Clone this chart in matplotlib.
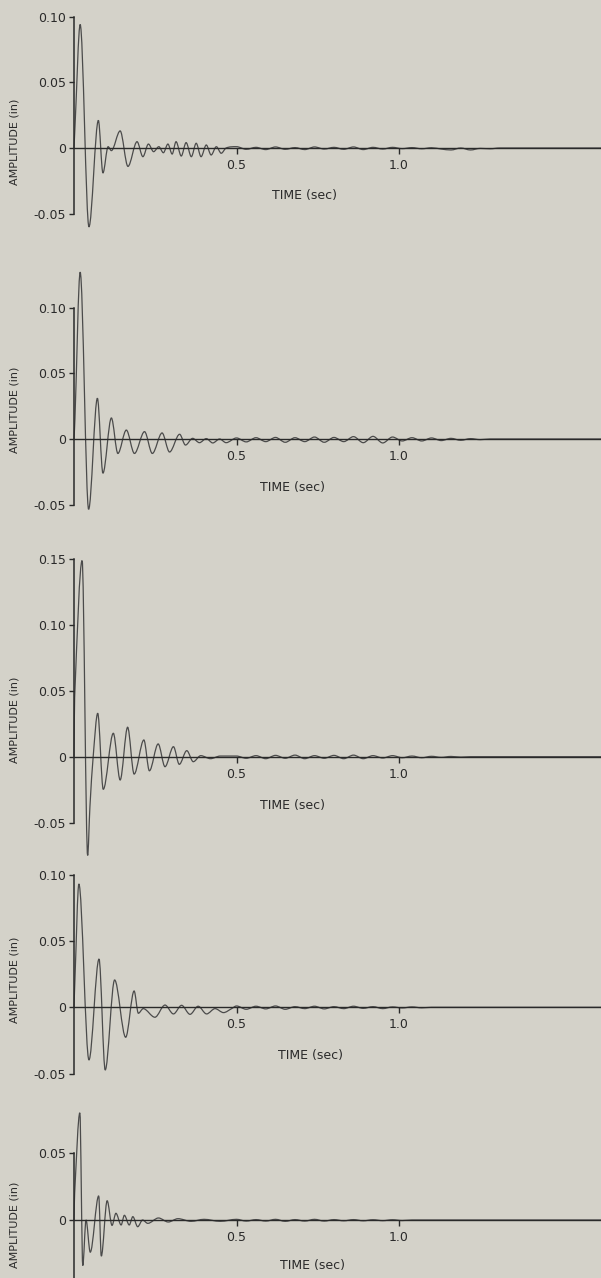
import numpy as np
import matplotlib
matplotlib.use("Agg")
import matplotlib.pyplot as plt
from matplotlib.path import Path
from matplotlib.patches import PathPatch

# turning points: time (sec) and amplitude (in)
p1_time = [0.0, 0.003, 0.019, 0.046, 0.075, 0.089, 0.105, 0.115, 0.142, 0.166, 0.194, 0.212,
           0.229, 0.245, 0.261, 0.275, 0.289, 0.302, 0.314, 0.330, 0.345, 0.361, 0.376, 0.391,
           0.407, 0.422, 0.438, 0.453, 0.468]
p1_amp = [0.0, 0.016, 0.094, -0.060, 0.021, -0.019, 0.001, -0.002, 0.013, -0.014, 0.0048, -0.0066,
          0.003, -0.0028, 0.001, -0.0036, 0.003, -0.0046, 0.0048, -0.0061, 0.0041, -0.0066, 0.0036, -0.0066,
          0.0023, -0.0053, 0.001, -0.004, 0.0]

p2_time = [0.0, 0.003, 0.019, 0.045, 0.072, 0.089, 0.115, 0.135, 0.161, 0.186, 0.217, 0.241,
           0.271, 0.294, 0.325, 0.343, 0.365, 0.386, 0.407, 0.427, 0.448, 0.468]
p2_amp = [0.0, 0.016, 0.127, -0.0535, 0.031, -0.026, 0.016, -0.011, 0.0068, -0.011, 0.0056, -0.011,
          0.0046, -0.0099, 0.0036, -0.0046, 0.0005, -0.0028, 0.0003, -0.003, 0.0, -0.0028]

p3_time = [0.0, 0.002, 0.025, 0.042, 0.049, 0.059, 0.073, 0.090, 0.121, 0.142, 0.165, 0.185,
           0.215, 0.232, 0.259, 0.280, 0.306, 0.324, 0.347, 0.367, 0.39, 0.42, 0.45]
p3_amp = [0.0, 0.045, 0.149, -0.075, -0.038, 0.0, 0.033, -0.0248, 0.0178, -0.0177, 0.0224, -0.0132,
          0.0127, -0.0107, 0.0097, -0.0076, 0.0076, -0.0058, 0.0046, -0.0038, 0.0008, -0.0015, 0.0005]

p4_time = [0.0, 0.003, 0.015, 0.046, 0.077, 0.096, 0.125, 0.159, 0.185, 0.198, 0.213, 0.249,
           0.280, 0.306, 0.331, 0.357, 0.382, 0.408, 0.434, 0.460, 0.485]
p4_amp = [0.0, 0.022, 0.093, -0.0397, 0.0364, -0.0473, 0.0206, -0.0226, 0.0123, -0.0045, -0.001, -0.0075,
          0.0017, -0.005, 0.0015, -0.0053, 0.0008, -0.005, -0.001, -0.004, -0.001]

p5_time = [0.0, 0.002, 0.018, 0.027, 0.037, 0.050, 0.076, 0.084, 0.102, 0.117, 0.129, 0.145,
           0.155, 0.170, 0.181, 0.196, 0.211, 0.227, 0.26, 0.29, 0.32, 0.36, 0.40, 0.45]
p5_amp = [0.0, 0.02, 0.080, -0.034, 0.0, -0.024, 0.018, -0.027, 0.0144, -0.004, 0.005, -0.0037,
          0.0035, -0.0037, 0.0025, -0.005, 0.0, -0.0025, 0.0015, -0.0015, 0.001, -0.001, 0.0005, -0.001]

# small ripple after 0.5 sec, same sample times for every record
tail_time = [0.50, 0.53, 0.56, 0.59, 0.62, 0.65, 0.68, 0.71, 0.74, 0.77, 0.80, 0.83, 0.86, 0.89,
             0.92, 0.95, 0.98, 1.01, 1.04, 1.07, 1.10, 1.13, 1.16, 1.19, 1.22, 1.25, 1.28, 1.31]
p1_tail = [0.001, -0.001, 0.0005, -0.0012, 0.0008, -0.001, 0.0003, -0.0012, 0.0008, -0.0008, 0.0005, -0.001,
           0.0008, -0.0012, 0.0005, -0.0008, 0.0005, -0.0005, 0.0003, -0.0006, 0.0002, -0.0008, -0.0015, 0.0,
           -0.0015, -0.0003, -0.0006, 0.0]
p2_tail = [0.0008, -0.0022, 0.001, -0.002, 0.0012, -0.0025, 0.001, -0.002, 0.0015, -0.0025, 0.0012, -0.002,
           0.0018, -0.0028, 0.002, -0.003, 0.0015, -0.0015, 0.001, -0.0015, 0.0008, -0.0012, 0.0005, -0.001,
           0.0003, -0.0005, 0.0, 0.0]
p3_tail = [0.0005, -0.0012, 0.0008, -0.0015, 0.001, -0.0012, 0.0012, -0.0015, 0.0008, -0.0012, 0.001, -0.0015,
           0.0012, -0.0015, 0.0008, -0.001, 0.0008, -0.0008, 0.0005, -0.0008, 0.0003, -0.0005, 0.0002, -0.0003,
           0.0, 0.0, 0.0, 0.0]
p4_tail = [0.001, -0.0015, 0.0008, -0.0012, 0.001, -0.0015, 0.0005, -0.001, 0.0008, -0.0012, 0.0005, -0.001,
           0.0008, -0.0008, 0.0005, -0.001, 0.0003, -0.0005, 0.0003, -0.0004, 0.0, 0.0, 0.0, 0.0,
           0.0, 0.0, 0.0, 0.0]
p5_tail = [0.0005, -0.0008, 0.0003, -0.0008, 0.0005, -0.001, 0.0003, -0.0008, 0.0005, -0.0008, 0.0003, -0.0006,
           0.0003, -0.0006, 0.0002, -0.0005, 0.0002, -0.0004, 0.0, 0.0, 0.0, 0.0, 0.0, 0.0,
           0.0, 0.0, 0.0, 0.0]

p1_ticks = [-0.05, 0, 0.05, 0.10]
p1_labels = ["-0.05", "0", "0.05", "0.10"]
p3_ticks = [-0.05, 0, 0.05, 0.10, 0.15]
p3_labels = ["-0.05", "0", "0.05", "0.10", "0.15"]
p5_ticks = [0, 0.05]          # the page is cut just above the -0.05 mark of the last record
p5_labels = ["0", "0.05"]
x_ticks = [0.5, 1.0]
x_labels = ["0.5", "1.0"]

records = [
    (p1_time, p1_amp, p1_tail, p1_ticks, p1_labels),
    (p2_time, p2_amp, p2_tail, p1_ticks, p1_labels),
    (p3_time, p3_amp, p3_tail, p3_ticks, p3_labels),
    (p4_time, p4_amp, p4_tail, p1_ticks, p1_labels),
    (p5_time, p5_amp, p5_tail, p5_ticks, p5_labels),
]

# page layout in pixels (zero line y, pixels per inch of amplitude, y limits, label spots)
W, H = 601, 1278
x_left = 74
px_per_sec = 325
zero_px = [148, 439, 756.7, 1007.3, 1220]
px_per_unit = [1314, 1314, 1316, 1326, 1340]
ylims = [(-0.066, 0.105), (-0.06, 0.135), (-0.08, 0.155), (-0.055, 0.105), (-0.06, 0.09)]
spine_low = [-0.05, -0.05, -0.05, -0.05, -0.06]
ylabel_y = [142, 410, 720, 980, 1225]
time_label = [(304, 196), (292, 488), (292, 805), (310, 1055), (312, 1266)]

bg = "#d4d2c9"
ink = "#2a2a2a"
trace = "#4b4b4b"


def trace_path(t, a):
    # smooth curve through the turning points, flat at peaks and troughs
    t = np.asarray(t, float)
    a = np.asarray(a, float)
    n = len(t)
    m = np.zeros(n)
    for i in range(1, n - 1):
        if (a[i] - a[i - 1]) * (a[i + 1] - a[i]) > 0:
            m[i] = (a[i + 1] - a[i - 1]) / (t[i + 1] - t[i - 1])
    m[0] = (a[1] - a[0]) / (t[1] - t[0])
    verts = [(t[0], a[0])]
    codes = [Path.MOVETO]
    for i in range(n - 1):
        h = (t[i + 1] - t[i]) / 3
        verts += [(t[i] + h, a[i] + m[i] * h), (t[i + 1] - h, a[i + 1] - m[i + 1] * h), (t[i + 1], a[i + 1])]
        codes += [Path.CURVE4] * 3
    return Path(verts, codes)


fig = plt.figure(figsize=(W / 100, H / 100), dpi=100, facecolor=bg)
x_max = (W - x_left) / px_per_sec

for k, (tt, aa, tail, yt, yl) in enumerate(records):
    lo, hi = ylims[k]
    top_px = zero_px[k] - hi * px_per_unit[k]
    bot_px = zero_px[k] - lo * px_per_unit[k]
    ax = fig.add_axes([x_left / W, 1 - bot_px / H, (W - x_left) / W, (bot_px - top_px) / H])
    ax.set_facecolor("none")
    ax.set_xlim(0, x_max)
    ax.set_ylim(lo, hi)

    t_all = list(tt) + tail_time + [x_max]
    a_all = list(aa) + tail + [0.0]
    ax.add_patch(PathPatch(trace_path(t_all, a_all), facecolor="none", edgecolor=trace,
                           lw=0.9, clip_on=False))

    for s in ["top", "right"]:
        ax.spines[s].set_visible(False)
    ax.spines["left"].set_bounds(spine_low[k], yt[-1])
    ax.spines["left"].set_color(ink)
    ax.spines["left"].set_linewidth(1.1)
    ax.spines["bottom"].set_position(("data", 0))
    ax.spines["bottom"].set_color(ink)
    ax.spines["bottom"].set_linewidth(1.0)

    ax.set_yticks(yt)
    ax.set_yticklabels(yl)
    ax.set_xticks(x_ticks)
    ax.set_xticklabels(x_labels)
    ax.tick_params(axis="y", direction="out", length=3.6, width=1.0, pad=2.2,
                   colors=ink, labelsize=9)
    ax.tick_params(axis="x", direction="out", length=4.5, width=1.0, pad=3.5,
                   colors=ink, labelsize=9)

    fig.text(15 / W, 1 - ylabel_y[k] / H, "AMPLITUDE (in)", rotation=90, fontsize=8,
             color=ink, ha="center", va="center")
    fig.text(time_label[k][0] / W, 1 - time_label[k][1] / H, "TIME (sec)", fontsize=9,
             color=ink, ha="center", va="center")

fig.savefig("out.png", dpi=100, facecolor=bg)
